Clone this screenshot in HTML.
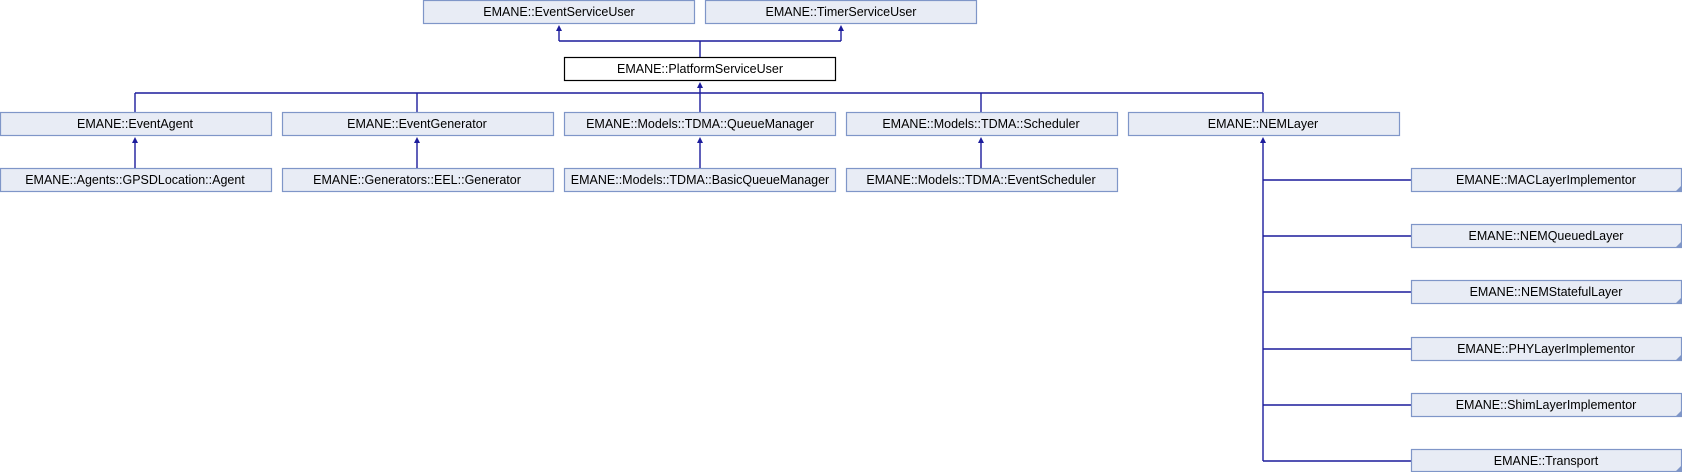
<!DOCTYPE html>
<html><head><meta charset="utf-8"><style>
html,body{margin:0;padding:0;background:#fff;}
svg{display:block;}
text{font-family:"Liberation Sans",Arial,sans-serif;font-size:12.5px;fill:#000;text-anchor:middle;}
.b{fill:#e8ecf5;stroke:#7f96c8;stroke-width:1.2;}
.w{fill:#fff;stroke:#000;stroke-width:1.2;}
.l{stroke:#1c1c9c;stroke-width:1.4;fill:none;}
.a{fill:#1c1c9c;}
.c{fill:#7f96c8;}
</style></head><body>
<svg width="1682" height="472" viewBox="0 0 1682 472" xmlns="http://www.w3.org/2000/svg">
<!-- top -->
<rect class="b" x="423.5" y="0.5" width="271" height="23"/><text x="559" y="16">EMANE::EventServiceUser</text>
<rect class="b" x="705.5" y="0.5" width="271" height="23"/><text x="841" y="16">EMANE::TimerServiceUser</text>
<rect class="w" x="564.5" y="57.5" width="271" height="23"/><text x="700" y="73">EMANE::PlatformServiceUser</text>
<path class="l" d="M700 57 V41 M559 41 H841 M559 41 V30 M841 41 V30"/>
<polygon class="a" points="559,25 556,31 562,31"/><polygon class="a" points="841,25 838,31 844,31"/>
<!-- bus -->
<path class="l" d="M700 87 V93 M135 93 H1263 M135 93 V112 M417 93 V112 M700 93 V112 M981 93 V112 M1263 93 V112"/>
<polygon class="a" points="700,82 697,88 703,88"/>
<!-- row2 -->
<rect class="b" x="0.5" y="112.5" width="271" height="23"/><text x="135" y="128">EMANE::EventAgent</text>
<rect class="b" x="282.5" y="112.5" width="271" height="23"/><text x="417" y="128">EMANE::EventGenerator</text>
<rect class="b" x="564.5" y="112.5" width="271" height="23"/><text x="700" y="128">EMANE::Models::TDMA::QueueManager</text>
<rect class="b" x="846.5" y="112.5" width="271" height="23"/><text x="981" y="128">EMANE::Models::TDMA::Scheduler</text>
<rect class="b" x="1128.5" y="112.5" width="271" height="23"/><text x="1263" y="128">EMANE::NEMLayer</text>
<!-- row3 -->
<rect class="b" x="0.5" y="168.5" width="271" height="23"/><text x="135" y="184">EMANE::Agents::GPSDLocation::Agent</text>
<rect class="b" x="282.5" y="168.5" width="271" height="23"/><text x="417" y="184">EMANE::Generators::EEL::Generator</text>
<rect class="b" x="564.5" y="168.5" width="271" height="23"/><text x="700" y="184">EMANE::Models::TDMA::BasicQueueManager</text>
<rect class="b" x="846.5" y="168.5" width="271" height="23"/><text x="981" y="184">EMANE::Models::TDMA::EventScheduler</text>
<path class="l" d="M135 168 V142 M417 168 V142 M700 168 V142 M981 168 V142"/>
<polygon class="a" points="135,137 132,143 138,143"/><polygon class="a" points="417,137 414,143 420,143"/>
<polygon class="a" points="700,137 697,143 703,143"/><polygon class="a" points="981,137 978,143 984,143"/>
<!-- NEM children -->
<path class="l" d="M1263 142 V461 M1263 180 H1411 M1263 236 H1411 M1263 292 H1411 M1263 349 H1411 M1263 405 H1411 M1263 461 H1411"/>
<polygon class="a" points="1263,137 1260,143 1266,143"/>
<g>
<rect class="b" x="1411.5" y="168.5" width="270" height="23"/><text x="1546" y="184">EMANE::MACLayerImplementor</text><polygon class="c" points="1681,186 1681,192 1675,192"/>
<rect class="b" x="1411.5" y="224.5" width="270" height="23"/><text x="1546" y="240">EMANE::NEMQueuedLayer</text><polygon class="c" points="1681,242 1681,248 1675,248"/>
<rect class="b" x="1411.5" y="280.5" width="270" height="23"/><text x="1546" y="296">EMANE::NEMStatefulLayer</text><polygon class="c" points="1681,298 1681,304 1675,304"/>
<rect class="b" x="1411.5" y="337.5" width="270" height="23"/><text x="1546" y="353">EMANE::PHYLayerImplementor</text><polygon class="c" points="1681,355 1681,361 1675,361"/>
<rect class="b" x="1411.5" y="393.5" width="270" height="23"/><text x="1546" y="409">EMANE::ShimLayerImplementor</text><polygon class="c" points="1681,411 1681,417 1675,417"/>
<rect class="b" x="1411.5" y="449.5" width="270" height="22"/><text x="1546" y="465">EMANE::Transport</text><polygon class="c" points="1681,466 1681,472 1675,472"/>
</g>
</svg>
</body></html>
